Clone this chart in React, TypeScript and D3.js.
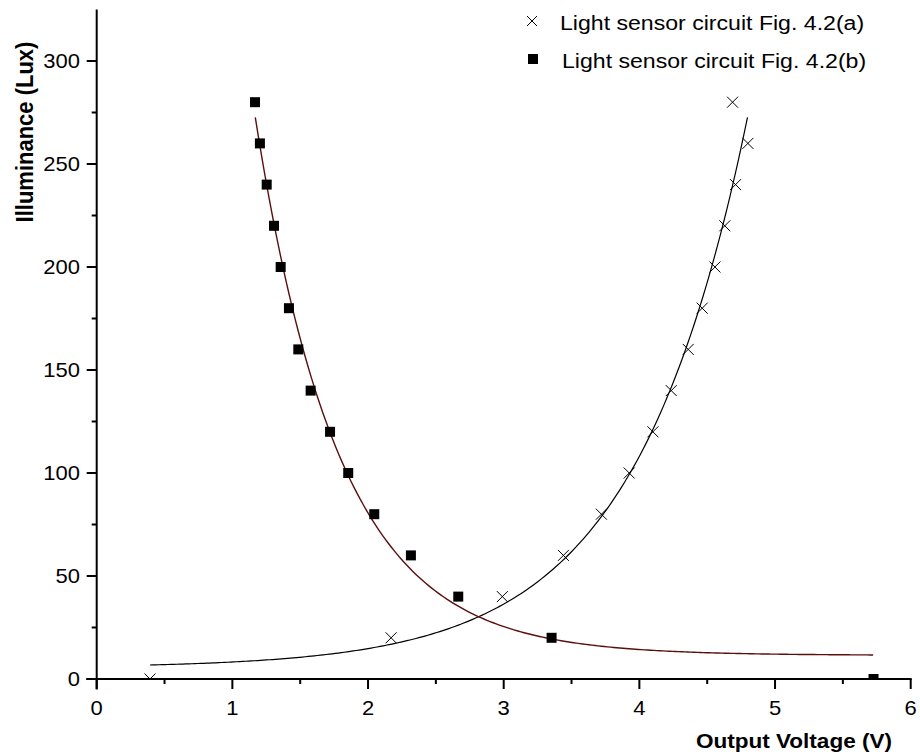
import React from "react";
import * as d3 from "d3";

// Data
const seriesAX = [0.393, 2.17, 2.99, 3.44, 3.72, 3.925, 4.1, 4.235, 4.36, 4.463, 4.557, 4.63, 4.709, 4.8, 4.687];
const seriesAY = [0, 20, 40, 60, 80, 100, 120, 140, 160, 180, 200, 220, 240, 260, 280];
const seriesBX = [1.167, 1.203, 1.253, 1.307, 1.356, 1.417, 1.486, 1.577, 1.72, 1.854, 2.046, 2.316, 2.665, 3.353, 5.726];
const seriesBY = [280, 260, 240, 220, 200, 180, 160, 140, 120, 100, 80, 60, 40, 20, 0];

// Exponential fit parameters: y = y0 + A * exp(k * x)
const fitA = { y0: 5.45, A: 0.845, k: 1.2, xmin: 0.393, xmax: 4.797 };
const fitB = { y0: 11.5, A: 1695, k: -1.6, xmin: 1.169, xmax: 5.723 };

const xTicks = [0, 1, 2, 3, 4, 5, 6];
const yTicks = [0, 50, 100, 150, 200, 250, 300];
const legendLabels = ["Light sensor circuit Fig. 4.2(a)", "Light sensor circuit Fig. 4.2(b)"];

const FONT = "'Liberation Sans', Arial, Helvetica, sans-serif";
const SX = 1.1;

const x = d3.scaleLinear().domain([0, 6]).range([96.7, 910.7]);
const y = d3.scaleLinear().domain([0, 325]).range([679, 9.5]);

function T({ x: tx, y: ty, anchor, size, bold, children, rotate }: any) {
  const tr = rotate
    ? `translate(${tx},${ty}) rotate(-90) scale(1,${SX})`
    : `translate(${tx},${ty}) scale(${SX},1)`;
  return (
    <g transform={tr}>
      <text
        x={0}
        y={0}
        textAnchor={anchor || "start"}
        fontFamily={FONT}
        fontSize={size}
        fontWeight={bold ? "bold" : "normal"}
        fill="#000"
      >
        {children}
      </text>
    </g>
  );
}

function Cross({ cx, cy, s = 5.5 }: any) {
  return (
    <path
      d={`M${cx - s},${cy - s}L${cx + s},${cy + s}M${cx - s},${cy + s}L${cx + s},${cy - s}`}
      stroke="#000"
      strokeWidth={1}
      fill="none"
    />
  );
}

function Square({ cx, cy, s = 5 }: any) {
  return <rect x={cx - s} y={cy - s} width={2 * s} height={2 * s} fill="#000" />;
}

export default function App() {
  const fitPts = (f: any) =>
    d3.range(0, 201).map((i) => {
      const xv = f.xmin + ((f.xmax - f.xmin) * i) / 200;
      return [xv, f.y0 + f.A * Math.exp(f.k * xv)] as [number, number];
    });
  const line = d3
    .line<[number, number]>()
    .x((d) => x(d[0]))
    .y((d) => y(d[1]));

  const x0 = x(0);
  const y0 = y(0);
  const xMinor = d3.range(0.5, 6, 1);
  const yMinor = d3.range(25, 325, 50);

  return (
    <svg
      width={920}
      height={755}
      style={{ position: "absolute", left: 0, top: 0, background: "#fff" }}
    >
      <rect x={0} y={0} width={920} height={755} fill="#fff" />
      <defs>
        <clipPath id="plot">
          <rect x={x0} y={y(325)} width={x(6) - x0} height={y0 - y(325)} />
        </clipPath>
      </defs>

      {/* fit curves */}
      <g clipPath="url(#plot)">
        <path d={line(fitPts(fitA)) || ""} fill="none" stroke="#000" strokeWidth={1.2} />
        <path d={line(fitPts(fitB)) || ""} fill="none" stroke="#5a0f0f" strokeWidth={1.4} />
        {seriesAX.map((xv, i) => (
          <Cross key={"a" + i} cx={x(xv)} cy={y(seriesAY[i])} />
        ))}
        {seriesBX.map((xv, i) => (
          <Square key={"b" + i} cx={x(xv)} cy={y(seriesBY[i])} />
        ))}
      </g>

      {/* axes */}
      <line x1={x0 - 10.5} x2={x(6) + 1} y1={y0} y2={y0} stroke="#000" strokeWidth={2} />
      <line x1={x0} x2={x0} y1={y(325)} y2={y0 + 10.5} stroke="#000" strokeWidth={2} />
      {xTicks.map((t) => (
        <line key={"xt" + t} x1={x(t)} x2={x(t)} y1={y0} y2={y0 + 10} stroke="#000" strokeWidth={2} />
      ))}
      {xMinor.map((t) => (
        <line key={"xm" + t} x1={x(t)} x2={x(t)} y1={y0} y2={y0 + 5} stroke="#000" strokeWidth={2} />
      ))}
      {yTicks.map((t) => (
        <line key={"yt" + t} x1={x0 - 10} x2={x0} y1={y(t)} y2={y(t)} stroke="#000" strokeWidth={2} />
      ))}
      {yMinor.map((t) => (
        <line key={"ym" + t} x1={x0 - 5} x2={x0} y1={y(t)} y2={y(t)} stroke="#000" strokeWidth={2} />
      ))}

      {xTicks.map((t) => (
        <T key={"xl" + t} x={x(t)} y={715} anchor="middle" size={20}>
          {String(t)}
        </T>
      ))}
      {yTicks.map((t) => (
        <T key={"yl" + t} x={80} y={y(t) + 7} anchor="end" size={20}>
          {String(t)}
        </T>
      ))}

      <T x={892} y={748} anchor="end" size={20.5} bold>
        Output Voltage (V)
      </T>
      <T x={33} y={132} anchor="middle" size={22} bold rotate>
        Illuminance (Lux)
      </T>

      {/* legend */}
      <Cross cx={532} cy={21} s={5} />
      <T x={560} y={30} size={21}>
        {legendLabels[0]}
      </T>
      <Square cx={533} cy={59} s={5} />
      <T x={562} y={68} size={21}>
        {legendLabels[1]}
      </T>
    </svg>
  );
}
